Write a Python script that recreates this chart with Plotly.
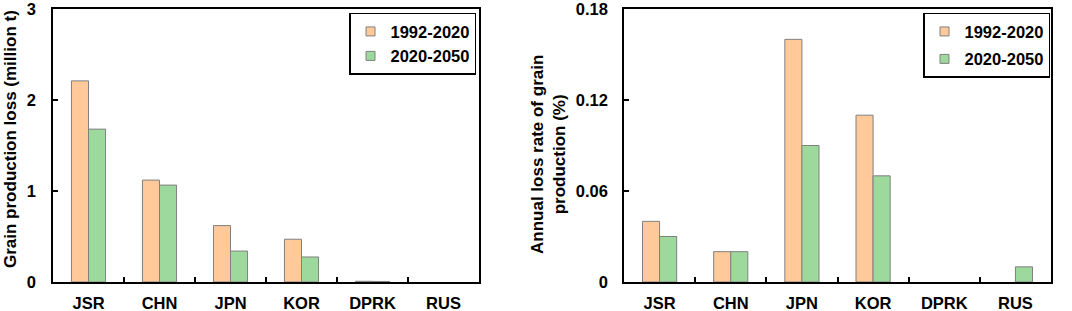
import plotly.graph_objects as go

categories = ["JSR", "CHN", "JPN", "KOR", "DPRK", "RUS"]
series_names = ["1992-2020", "2020-2050"]
loss_1992_2020 = [2.21, 1.12, 0.62, 0.47, 0.008, 0.0]
loss_2020_2050 = [1.68, 1.065, 0.34, 0.275, 0.006, 0.0]
rate_1992_2020 = [0.04, 0.02, 0.16, 0.11, 0.0, 0.0]
rate_2020_2050 = [0.03, 0.02, 0.09, 0.07, 0.0, 0.01]
left_ticks = [0, 1, 2, 3]
right_ticks = [0, 0.06, 0.12, 0.18]
right_tick_text = ["0", "0.06", "0.12", "0.18"]

ORANGE = "#FFC999"
GREEN = "#9DD99D"
EDGE = "#808080"
FONT = "Arial, Liberation Sans, sans-serif"
W, H = 1072, 311
T, B = 9, 29
PH = H - T - B


def py(px):
    return (H - B - px) / PH


fig = go.Figure()
panels = [
    ("x", "y", "legend", [loss_1992_2020, loss_2020_2050]),
    ("x2", "y2", "legend2", [rate_1992_2020, rate_2020_2050]),
]
for xa, ya, lg, series in panels:
    for vals, name, col in zip(series, series_names, [ORANGE, GREEN]):
        fig.add_trace(go.Bar(
            x=categories, y=vals, name=name, xaxis=xa, yaxis=ya, showlegend=False,
            marker=dict(color=col, line=dict(color=EDGE, width=[1 if v > 0 else 0 for v in vals]))))
        # legend entry (small square swatch like the reference)
        fig.add_trace(go.Scatter(
            x=[None], y=[None], name=name, mode="markers", xaxis=xa, yaxis=ya, legend=lg,
            legendgroup=lg + name,
            marker=dict(symbol="square", size=9, color=col, line=dict(color=EDGE, width=1))))

tickfont = dict(family=FONT, size=16.5, color="black", weight="bold")
axis_common = dict(showline=True, linecolor="black", linewidth=1.5, mirror=True, showgrid=False,
                   zeroline=False, ticks="inside", ticklen=5, tickcolor="black", tickwidth=1.5,
                   tickfont=tickfont, ticklabeloverflow="allow")
legfont = dict(family=FONT, size=16.5, color="black", weight="bold")

fig.update_layout(
    width=W, height=H, margin=dict(l=0, r=0, t=T, b=B, autoexpand=False),
    paper_bgcolor="white", plot_bgcolor="white",
    barmode="group", bargap=0.52, bargroupgap=0,
    xaxis=dict(domain=[53 / W, 479 / W], anchor="y", tickson="boundaries", ticklabelstandoff=5, **axis_common),
    yaxis=dict(domain=[0, 1], anchor="x", range=[0, 3], tickvals=left_ticks, ticklabelstandoff=12, **axis_common),
    xaxis2=dict(domain=[624 / W, 1051 / W], anchor="y2", tickson="boundaries", ticklabelstandoff=5, **axis_common),
    yaxis2=dict(domain=[0, 1], anchor="x2", range=[0, 0.18], tickvals=right_ticks, ticktext=right_tick_text,
                ticklabelstandoff=11, **axis_common),
    legend=dict(x=476 / W, y=py(12.7), xanchor="right", yanchor="top",
                bordercolor="black", borderwidth=1.5, bgcolor="white", font=legfont,
                tracegroupgap=0, itemwidth=30),
    legend2=dict(x=1050 / W, y=py(12.7), xanchor="right", yanchor="top",
                 bordercolor="black", borderwidth=1.5, bgcolor="white", font=legfont,
                 tracegroupgap=3, itemwidth=30),
    annotations=[
        dict(text="Grain production loss (million t)", textangle=-90, xref="paper", yref="paper",
             x=10 / W, y=py(139), showarrow=False, xanchor="center", yanchor="middle",
             font=dict(family=FONT, size=17, color="black", weight="bold")),
        dict(text="Annual loss rate of grain<br>production (%)", textangle=-90, xref="paper", yref="paper",
             x=548 / W, y=py(155), showarrow=False, xanchor="center", yanchor="middle",
             font=dict(family=FONT, size=17, color="black", weight="bold")),
    ],
)

fig.write_html("out.html", config={"displayModeBar": False},
               post_script="document.body.style.margin='0';document.body.style.padding='0';")
